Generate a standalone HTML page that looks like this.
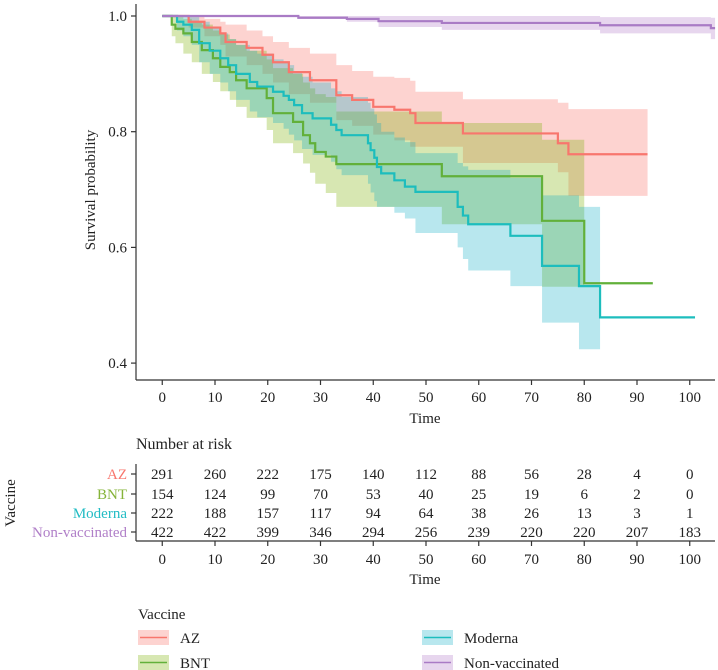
<!DOCTYPE html>
<html><head><meta charset="utf-8"><style>
body{margin:0;background:#fff;}
svg{display:block;font-family:"Liberation Serif",serif;}
</style></head><body>
<svg id="c" width="718" height="670" viewBox="0 0 718 670">
<g id="bands"></g>
<g id="lines"></g>
<g id="axes" stroke="#333" fill="none" stroke-width="1.2"></g>
<g id="txt" fill="#222" font-size="15"></g>
</svg>
<script>
const seriesNames = ["AZ","BNT","Moderna","Non-vaccinated"];
const lineColors = ["#F8766D","#62B03A","#1DBDBD","#A97BC5"];
const bandColors = ["rgba(248,118,109,0.32)","rgba(124,174,0,0.3)","rgba(0,170,195,0.28)","rgba(175,120,200,0.3)"];
const textColors = ["#F8766D","#86B43A","#22BCC4","#B07FC8"];
const azTimes = [0,5,8,11,12,16,19,21,24,28,33,36,40,44,47,48,57,75,77];
const azSurv  = [1,.99,.98,.97,.955,.945,.933,.92,.903,.889,.863,.855,.843,.838,.832,.815,.797,.78,.761];
const azUpper = [1,1,.995,.99,.985,.975,.965,.955,.945,.935,.915,.905,.895,.893,.888,.869,.856,.85,.839];
const azLower = [1,.98,.965,.95,.93,.915,.9,.885,.865,.85,.82,.81,.795,.785,.774,.774,.746,.73,.689];
const bntTimes = [0,1.8,2.5,4,5.6,7.5,9.6,11,12.8,14,16,19.8,21,24.8,26.7,28,29,31,33,53,72,80];
const bntSurv  = [1,.985,.978,.97,.955,.941,.927,.912,.903,.889,.875,.858,.832,.817,.794,.78,.765,.757,.744,.723,.646,.538];
const bntUpper = [1,1,.998,.995,.99,.985,.975,.968,.96,.95,.94,.925,.91,.9,.885,.875,.865,.86,.835,.815,.786,.786];
const bntLower = [1,.965,.953,.935,.92,.9,.886,.87,.855,.843,.824,.803,.78,.763,.745,.729,.71,.694,.67,.64,.532,.532];
const modTimes = [0,2.8,4,5.6,7,9,11,12.5,14,16.6,18,21,23,24,25,26.5,28.5,32,33,34,39,39.5,40.2,40.7,41.5,44,46,48,56,57,58,66,72,79,83];
const modSurv  = [1,.99,.985,.976,.953,.94,.927,.915,.9,.886,.878,.869,.862,.855,.846,.832,.823,.812,.803,.794,.78,.768,.755,.739,.728,.716,.705,.696,.67,.655,.64,.62,.568,.533,.479];
const modUpper = [1,1,1,.998,.99,.98,.97,.96,.95,.94,.935,.925,.92,.915,.905,.895,.885,.875,.87,.86,.85,.84,.83,.815,.8,.79,.782,.763,.746,.74,.734,.72,.69,.67,.67];
const modLower = [1,.975,.965,.95,.92,.9,.885,.87,.855,.835,.825,.815,.805,.795,.785,.77,.76,.748,.735,.725,.71,.695,.68,.67,.67,.66,.65,.625,.6,.58,.56,.533,.47,.424,.424];
const nvTimes = [0,25.8,35,41,53,83,104];
const nvSurv  = [1,.997,.995,.991,.988,.984,.979];
const nvUpper = [1,1,1,1,1,.998,.997];
const nvLower = [1,.995,.99,.981,.976,.97,.96];
const lineEnds = [92,93,101,104.8];
const bandEnds = [92,80,83,104.8];
const xTicks = [0,10,20,30,40,50,60,70,80,90,100];
const yTicks = [0.4,0.6,0.8,1.0];
const riskAZ = [291,260,222,175,140,112,88,56,28,4,0];
const riskBNT = [154,124,99,70,53,40,25,19,6,2,0];
const riskMod = [222,188,157,117,94,64,38,26,13,3,1];
const riskNV = [422,422,399,346,294,256,239,220,220,207,183];

const allTimes=[azTimes,bntTimes,modTimes,nvTimes];
const allSurv=[azSurv,bntSurv,modSurv,nvSurv];
const allUp=[azUpper,bntUpper,modUpper,nvUpper];
const allLo=[azLower,bntLower,modLower,nvLower];
const allRisk=[riskAZ,riskBNT,riskMod,riskNV];

const X=t=>162.25+5.275*t;
const Y=s=>16+(1-s)*578.5;
const NS="http://www.w3.org/2000/svg";
function mk(tag,parent,attrs){const e=document.createElementNS(NS,tag);for(const k in attrs)e.setAttribute(k,attrs[k]);parent.appendChild(e);return e;}
function stepPts(ts,vs,end){let p=[];for(let i=0;i<ts.length;i++){if(ts[i]>end)break;const t1=(i+1<ts.length&&ts[i+1]<end)?ts[i+1]:end;p.push([X(ts[i]),Y(vs[i])],[X(t1),Y(vs[i])]);if(t1===end)break;}return p;}
const bands=document.getElementById('bands'),lines=document.getElementById('lines'),axes=document.getElementById('axes'),txt=document.getElementById('txt');
for(let k=0;k<4;k++){
  const up=stepPts(allTimes[k],allUp[k],bandEnds[k]);
  const lo=stepPts(allTimes[k],allLo[k],bandEnds[k]).reverse();
  const pg=mk('polygon',bands,{points:up.concat(lo).map(p=>p.join(',')).join(' '),fill:bandColors[k]});
  
  
}
for(let k=0;k<4;k++){
  const pts=[];const ts=allTimes[k],vs=allSurv[k];
  for(let i=0;i<ts.length;i++){const t1=i+1<ts.length?ts[i+1]:lineEnds[k];pts.push([X(ts[i]),Y(vs[i])],[X(t1),Y(vs[i])]);}
  const pl=mk('polyline',lines,{points:pts.map(p=>p.join(',')).join(' '),fill:'none',stroke:lineColors[k],'stroke-width':2.2});
  
  
}
mk('line',axes,{x1:136,y1:4,x2:136,y2:380});
mk('line',axes,{x1:136,y1:380,x2:715,y2:380});
yTicks.forEach(v=>{mk('line',axes,{x1:131,x2:136,y1:Y(v),y2:Y(v)});
  const t=mk('text',txt,{x:127,y:Y(v)+5,'text-anchor':'end'});t.textContent=v.toFixed(1);
  });
xTicks.forEach(v=>{mk('line',axes,{x1:X(v),x2:X(v),y1:380,y2:385});
  const t=mk('text',txt,{x:X(v),y:402,'text-anchor':'middle'});t.textContent=v;
  });
let t=mk('text',txt,{x:425,y:423,'text-anchor':'middle'});t.textContent='Time';

t=mk('text',txt,{x:95,y:190,'text-anchor':'middle',transform:'rotate(-90 95 190)'});t.textContent='Survival probability';

t=mk('text',txt,{x:136,y:449,'font-size':16});t.textContent='Number at risk';

const rowY=[474,494,513,532];
mk('line',axes,{x1:136,y1:464,x2:136,y2:541});
mk('line',axes,{x1:136,y1:541,x2:715,y2:541});
for(let k=0;k<4;k++){
  mk('line',axes,{x1:131,x2:136,y1:rowY[k],y2:rowY[k]});
  const l=mk('text',txt,{x:127,y:rowY[k]+5,'text-anchor':'end',fill:textColors[k]});l.textContent=seriesNames[k];
  
  allRisk[k].forEach((n,i)=>{const c=mk('text',txt,{x:X(xTicks[i]),y:rowY[k]+5,'text-anchor':'middle'});c.textContent=n;
    });
}
xTicks.forEach(v=>{mk('line',axes,{x1:X(v),x2:X(v),y1:541,y2:546});
  const c=mk('text',txt,{x:X(v),y:564,'text-anchor':'middle'});c.textContent=v;
  });
t=mk('text',txt,{x:425,y:584,'text-anchor':'middle'});t.textContent='Time';

t=mk('text',txt,{x:15,y:503,'text-anchor':'middle',transform:'rotate(-90 15 503)'});t.textContent='Vaccine';

t=mk('text',txt,{x:138,y:619});t.textContent='Vaccine';

const legX=[138,138,422,422],legY=[630,655,630,655],labX=[180,180,464,464];
for(let k=0;k<4;k++){
  const r=mk('rect',txt,{x:legX[k],y:legY[k],width:31,height:15,fill:bandColors[k]});
  
  mk('line',txt,{x1:legX[k]+2,x2:legX[k]+29,y1:legY[k]+7.5,y2:legY[k]+7.5,stroke:lineColors[k],'stroke-width':1.5});
  const l=mk('text',txt,{x:labX[k],y:legY[k]+13});l.textContent=seriesNames[k];
  
}
</script>
</body></html>
